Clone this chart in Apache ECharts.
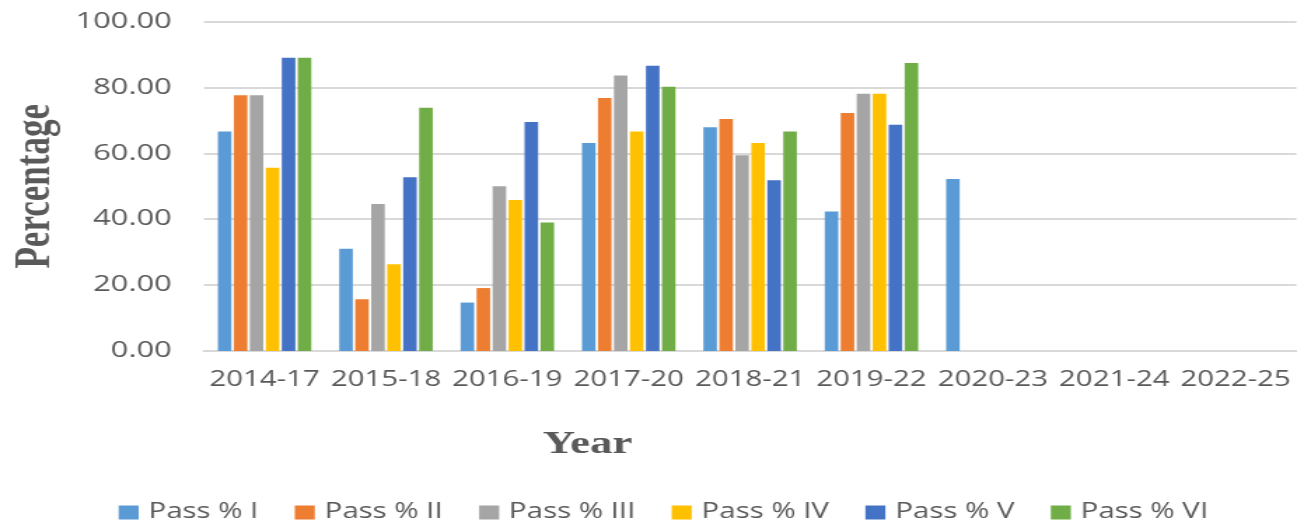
<!DOCTYPE html>
<html>
<head>
<meta charset="utf-8">
<script src="https://cdn.jsdelivr.net/npm/echarts@6/dist/echarts.min.js"></script>
<style>
html,body{margin:0;padding:0;background:#fff;overflow:hidden;width:1297px;height:529px;}
#wrap{width:926px;height:529px;transform:scaleX(1.40065);transform-origin:0 0;}
#chart{width:926px;height:529px;}
</style>
</head>
<body>
<div id="wrap"><div id="chart"></div></div>
<script>
const categories = ['2014-17','2015-18','2016-19','2017-20','2018-21','2019-22','2020-23','2021-24','2022-25'];
const seriesNames = ['Pass % I','Pass % II','Pass % III','Pass % IV','Pass % V','Pass % VI'];
const passI   = [66.6, 31.0, 14.7, 63.1, 67.9, 42.3, 52.2, null, null];
const passII  = [77.6, 15.7, 19.1, 76.8, 70.4, 72.2, null, null, null];
const passIII = [77.6, 44.6, 50.0, 83.6, 59.4, 78.1, null, null, null];
const passIV  = [55.6, 26.3, 45.8, 66.6, 63.1, 78.1, null, null, null];
const passV   = [89.0, 52.7, 69.5, 86.6, 51.8, 68.7, null, null, null];
const passVI  = [89.0, 73.8, 39.0, 80.2, 66.6, 87.4, null, null, null];
const yTicks = [0, 20, 40, 60, 80, 100];

const colors = ['#5B9BD5','#ED7D31','#A5A5A5','#FFC000','#4472C4','#70AD47'];
const allData = [passI, passII, passIII, passIV, passV, passVI];

const chart = echarts.init(document.getElementById('chart'), null, {renderer:'canvas'});
chart.setOption({
  animation: false,
  color: colors,
  grid: {left: 143, right: 0.5, top: 21.5, bottom: 178, containLabel: false},
  legend: {
    data: seriesNames,
    left: 79.7, top: 497,
    itemWidth: 14.3, itemHeight: 14, itemGap: 26,
    icon: 'rect',
    textStyle: {fontFamily: 'Open Sans', fontSize: 21, color: '#595959', padding: [0, 0, 0, 2]}
  },
  xAxis: {
    type: 'category',
    data: categories,
    axisTick: {show: false},
    axisLine: {lineStyle: {color: '#d9d9d9', width: 2}},
    axisLabel: {fontFamily: 'Open Sans', fontSize: 21, color: '#595959', margin: 19, interval: 0},
    name: 'Year',
    nameLocation: 'middle',
    nameGap: 78,
    nameTextStyle: {fontFamily: 'Liberation Serif', fontWeight: 'bold', fontSize: 32, color: '#595959', padding: [0, 232, 0, 0]}
  },
  yAxis: {
    type: 'value',
    min: yTicks[0], max: yTicks[yTicks.length - 1], interval: 20,
    axisLine: {show: false},
    axisTick: {show: false},
    splitLine: {lineStyle: {color: '#d9d9d9', width: 2}},
    axisLabel: {fontFamily: 'Open Sans', fontSize: 22, color: '#595959', margin: 23,
      formatter: v => v.toFixed(2)},
    name: 'Percentage',
    nameLocation: 'middle',
    nameGap: 97,
    nameTextStyle: {fontFamily: 'Liberation Serif', fontWeight: 'bold', fontSize: 35, color: '#595959'}
  },
  series: seriesNames.map((n, i) => ({
    name: n,
    type: 'bar',
    data: allData[i],
    barCategoryGap: '23%',
    barGap: '18%',
    itemStyle: {color: colors[i]}
  }))
});
</script>
</body>
</html>
